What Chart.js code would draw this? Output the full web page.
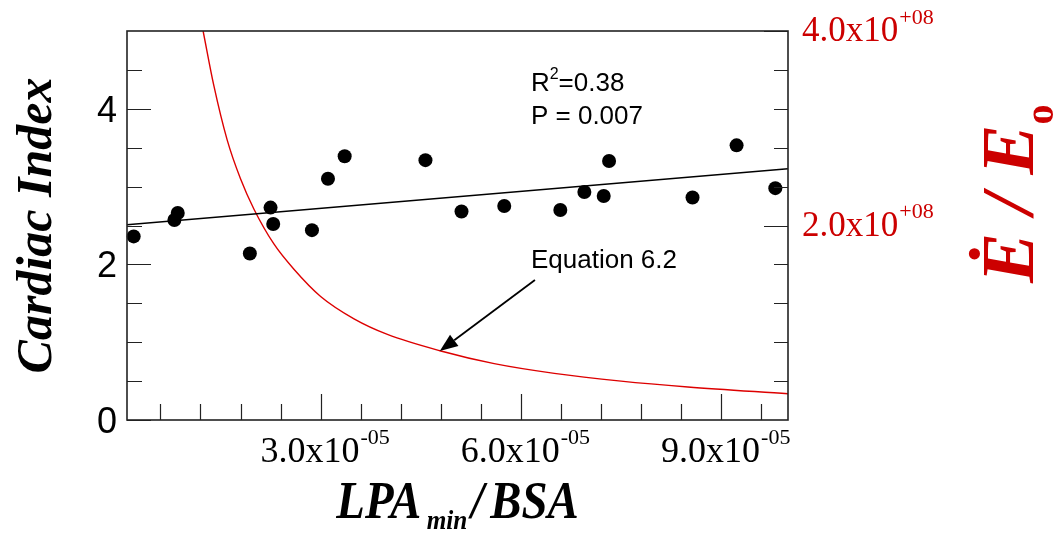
<!DOCTYPE html>
<html>
<head>
<meta charset="utf-8">
<title>Cardiac Index vs LPA min / BSA</title>
<script src="https://cdn.jsdelivr.net/npm/chart.js@4.4.1/dist/chart.umd.min.js"></script>
<style>
  html, body { margin: 0; padding: 0; background: #fff; }
  #wrap { width: 1058px; height: 533px; }
</style>
</head>
<body>
<div id="wrap"><canvas id="chart" width="1058" height="533"></canvas></div>
<script>
// --- data ---
// x values are LPA_min/BSA in units of 1e-5
const lpaX = [0.20, 0.81, 0.86, 1.94, 2.25, 2.29, 2.87, 3.11, 3.36, 4.57, 5.11, 5.75, 6.59, 6.95, 7.24, 7.32, 8.57, 9.23, 9.81];
const cardiacIdx = [2.36, 2.57, 2.66, 2.14, 2.73, 2.52, 2.44, 3.10, 3.39, 3.34, 2.68, 2.75, 2.70, 2.93, 2.88, 3.33, 2.86, 3.53, 2.98];

// regression line ends
const fitX = [0.1, 10.0];
const fitY = [2.51, 3.23];

// Equation 6.2 curve, E/Eo in units of 1e8 (right axis)
const eqX = [1.24, 1.4, 1.6, 1.8, 2.0, 2.3, 2.6, 3.0, 3.5, 4.0, 4.8, 5.6, 6.5, 7.5, 8.5, 10.0];
const eqY = [4.00, 3.44, 2.88, 2.48, 2.17, 1.81, 1.55, 1.27, 1.04, 0.88, 0.71, 0.58, 0.48, 0.40, 0.34, 0.27];

// axis ranges and ticks
const xRange = [0.1, 10];
const yRange = [0, 5];
const y2Range = [0, 4];
const xTicks = [0.6, 1.2, 1.8, 2.4, 3.0, 3.6, 4.2, 4.8, 5.4, 6.0, 6.6, 7.2, 7.8, 8.4, 9.0, 9.6];
const xLabelTicks = [3.0, 6.0, 9.0];
const xLabels = ['3.0x10', '6.0x10', '9.0x10'];
const xExp = '-05';
const yTicks = [0, 0.5, 1, 1.5, 2, 2.5, 3, 3.5, 4, 4.5];
const yLabelTicks = [0, 2, 4];
const yLabels = ['0', '2', '4'];
const y2Ticks = [0.4, 0.8, 1.2, 1.6, 2.0, 2.4, 2.8, 3.2, 3.6, 4.0];
const y2LabelTicks = [2.0, 4.0];
const y2Labels = ['2.0x10', '4.0x10'];
const y2Exp = '+08';

// annotation anchors (data units)
const r2Pos = [6.15, 4.23];
const pPos = [6.15, 3.80];
const eqPos = [6.15, 1.95];
const arrowFrom = [6.21, 1.80];   // left axis
const arrowTip = [4.785, 0.709];  // right axis

const RED = '#cc0000';
const SERIF = '"Liberation Serif", "Times New Roman", serif';
const SANS = '"Liberation Sans", Arial, sans-serif';

function toXY(xs, ys) {
  return xs.map((x, i) => ({ x: x, y: ys[i] }));
}

// value with superscript exponent, e.g. 3.0x10^-05
function drawSci(ctx, text, exp, x, y, size, supSize, align) {
  ctx.font = size + 'px ' + SERIF;
  const w1 = ctx.measureText(text).width;
  ctx.font = supSize + 'px ' + SERIF;
  const w2 = ctx.measureText(exp).width;
  let start = x;
  if (align === 'center') start = x - (w1 + w2) / 2;
  ctx.textAlign = 'left';
  ctx.textBaseline = 'alphabetic';
  ctx.font = size + 'px ' + SERIF;
  ctx.fillText(text, start, y);
  ctx.font = supSize + 'px ' + SERIF;
  ctx.fillText(exp, start + w1 + 1, y - size * 0.5);
}

const framePlugin = {
  id: 'frame',
  afterDraw(chart) {
    const ctx = chart.ctx;
    const a = chart.chartArea;
    const sx = chart.scales.x, sy = chart.scales.y, sy2 = chart.scales.y2;
    ctx.save();

    // inward tick marks
    ctx.strokeStyle = '#222';
    ctx.lineWidth = 1.2;
    ctx.beginPath();
    xTicks.forEach(v => {
      const px = Math.round(sx.getPixelForValue(v)) + 0.5;
      const len = xLabelTicks.includes(v) ? 26 : 16;
      ctx.moveTo(px, a.bottom);
      ctx.lineTo(px, a.bottom - len);
    });
    yTicks.forEach(v => {
      const py = Math.round(sy.getPixelForValue(v)) + 0.5;
      const len = yLabelTicks.includes(v) ? 24 : 15;
      ctx.moveTo(a.left, py);
      ctx.lineTo(a.left + len, py);
    });
    y2Ticks.forEach(v => {
      const py = Math.round(sy2.getPixelForValue(v)) + 0.5;
      const len = y2LabelTicks.includes(v) ? 24 : 14;
      ctx.moveTo(a.right, py);
      ctx.lineTo(a.right - len, py);
    });
    ctx.stroke();

    // frame
    ctx.lineWidth = 1.6;
    ctx.strokeRect(a.left, a.top, a.right - a.left, a.bottom - a.top);

    // left tick labels
    ctx.fillStyle = '#000';
    ctx.font = '36px ' + SANS;
    ctx.textAlign = 'right';
    ctx.textBaseline = 'alphabetic';
    yLabelTicks.forEach((v, i) => {
      ctx.fillText(yLabels[i], 117, sy.getPixelForValue(v) + 13);
    });

    // bottom tick labels
    xLabelTicks.forEach((v, i) => {
      drawSci(ctx, xLabels[i], xExp, sx.getPixelForValue(v) + 4, a.bottom + 42, 36, 22, 'center');
    });

    // right tick labels
    ctx.fillStyle = RED;
    y2LabelTicks.forEach((v, i) => {
      drawSci(ctx, y2Labels[i], y2Exp, a.right + 14, sy2.getPixelForValue(v) + 10, 35, 22, 'left');
    });

    // left title
    ctx.fillStyle = '#000';
    ctx.save();
    ctx.translate(51, (a.top + a.bottom) / 2);
    ctx.rotate(-Math.PI / 2);
    ctx.font = 'italic bold 50px ' + SERIF;
    ctx.textAlign = 'center';
    ctx.fillText('Cardiac Index', 0, 0);
    ctx.restore();

    // bottom title LPA_min / BSA (slightly condensed like the original)
    const big = 'italic bold 52px ' + SERIF;
    const small = 'italic bold 28px ' + SERIF;
    const squeeze = 0.9;
    ctx.font = big;
    const wL = ctx.measureText('LPA').width;
    const wS = ctx.measureText('/').width;
    const wB = ctx.measureText('BSA').width;
    ctx.font = small;
    const wM = ctx.measureText('min').width;
    const total = (wL + 6 + wM + 4 + wS + 7 + wB) * squeeze;
    ctx.save();
    ctx.translate((a.left + a.right) / 2 - total / 2, a.bottom + 98);
    ctx.scale(squeeze, 1);
    ctx.textAlign = 'left';
    let tx = 0;
    ctx.font = big;
    ctx.fillText('LPA', tx, 0);
    tx += wL + 6;
    ctx.font = small;
    ctx.fillText('min', tx, 11);
    tx += wM + 4;
    ctx.font = big;
    ctx.fillText('/', tx, 0);
    tx += wS + 7;
    ctx.fillText('BSA', tx, 0);
    ctx.restore();

    // right title E-dot / Eo
    ctx.fillStyle = RED;
    ctx.save();
    ctx.translate(a.right + 245, 283);
    ctx.rotate(-Math.PI / 2);
    ctx.font = 'italic bold 75px ' + SERIF;
    ctx.textAlign = 'left';
    ctx.fillText('\u0116 / E', 0, 0);
    const wE = ctx.measureText('\u0116 / E').width;
    ctx.font = 'bold 40px ' + SERIF;
    ctx.fillText('o', wE, 20);
    ctx.restore();

    // annotations
    ctx.fillStyle = '#000';
    ctx.font = '26px ' + SANS;
    ctx.textAlign = 'left';
    let ax = sx.getPixelForValue(r2Pos[0]);
    let ay = sy.getPixelForValue(r2Pos[1]);
    ctx.fillText('R', ax, ay);
    const wR = ctx.measureText('R').width;
    ctx.font = '16px ' + SANS;
    ctx.fillText('2', ax + wR, ay - 12);
    const w2 = ctx.measureText('2').width;
    ctx.font = '26px ' + SANS;
    ctx.fillText('=0.38', ax + wR + w2, ay);
    ctx.fillText('P = 0.007', sx.getPixelForValue(pPos[0]), sy.getPixelForValue(pPos[1]));
    ctx.fillText('Equation 6.2', sx.getPixelForValue(eqPos[0]), sy.getPixelForValue(eqPos[1]));

    // arrow to the curve
    const x0 = sx.getPixelForValue(arrowFrom[0]), y0 = sy.getPixelForValue(arrowFrom[1]);
    const x1 = sx.getPixelForValue(arrowTip[0]), y1 = sy2.getPixelForValue(arrowTip[1]);
    const ang = Math.atan2(y1 - y0, x1 - x0);
    const headLen = 18, headW = 7;
    const bx = x1 - headLen * Math.cos(ang), by = y1 - headLen * Math.sin(ang);
    ctx.strokeStyle = '#000';
    ctx.lineWidth = 1.8;
    ctx.beginPath();
    ctx.moveTo(x0, y0);
    ctx.lineTo(bx, by);
    ctx.stroke();
    ctx.beginPath();
    ctx.moveTo(x1, y1);
    ctx.lineTo(bx + headW * Math.sin(ang), by - headW * Math.cos(ang));
    ctx.lineTo(bx - headW * Math.sin(ang), by + headW * Math.cos(ang));
    ctx.closePath();
    ctx.fill();

    ctx.restore();
  }
};

new Chart(document.getElementById('chart'), {
  type: 'scatter',
  data: {
    datasets: [
      {
        label: 'Cardiac Index',
        data: toXY(lpaX, cardiacIdx),
        yAxisID: 'y',
        backgroundColor: '#000',
        borderWidth: 0,
        pointRadius: 7,
        pointHoverRadius: 7,
        clip: false
      },
      {
        label: 'fit',
        data: toXY(fitX, fitY),
        yAxisID: 'y',
        showLine: true,
        borderColor: '#000',
        borderWidth: 1.4,
        pointRadius: 0
      },
      {
        label: 'Equation 6.2',
        data: toXY(eqX, eqY),
        yAxisID: 'y2',
        showLine: true,
        borderColor: '#dd0000',
        borderWidth: 1.4,
        pointRadius: 0,
        cubicInterpolationMode: 'monotone'
      }
    ]
  },
  options: {
    responsive: false,
    animation: false,
    devicePixelRatio: 1,
    layout: { padding: { top: 31, left: 0, right: 0, bottom: 0 } },
    plugins: {
      legend: { display: false },
      tooltip: { enabled: false }
    },
    scales: {
      x: {
        type: 'linear',
        min: xRange[0],
        max: xRange[1],
        grid: { display: false },
        border: { display: false },
        ticks: { display: false },
        afterFit: s => { s.height = 113; }
      },
      y: {
        type: 'linear',
        position: 'left',
        min: yRange[0],
        max: yRange[1],
        grid: { display: false },
        border: { display: false },
        ticks: { display: false },
        afterFit: s => { s.width = 127; }
      },
      y2: {
        type: 'linear',
        position: 'right',
        min: y2Range[0],
        max: y2Range[1],
        grid: { display: false },
        border: { display: false },
        ticks: { display: false },
        afterFit: s => { s.width = 270; }
      }
    }
  },
  plugins: [framePlugin]
});
</script>
</body>
</html>
